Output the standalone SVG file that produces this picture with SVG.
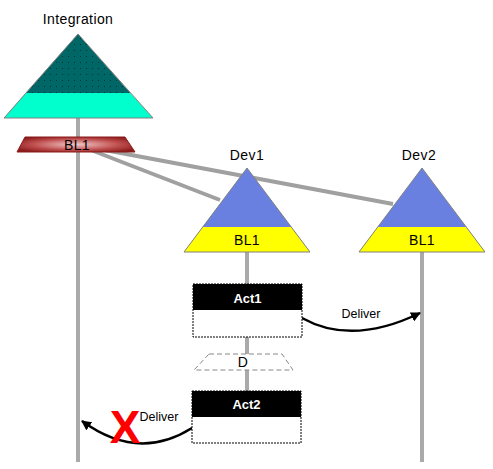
<svg xmlns="http://www.w3.org/2000/svg" width="493" height="469" viewBox="0 0 493 469">
<style>
text{font-family:"Liberation Sans",Arial,sans-serif;text-anchor:middle;fill:#000}
.lbl{font-size:14px;letter-spacing:0.4px}
.act{font-size:13px;font-weight:bold;fill:#fff}
.life{stroke:#aaaaaa;stroke-width:4;fill:none}
.link{stroke:#a0a0a0;stroke-width:4;fill:none}
.tri{stroke:#808080;stroke-width:1}
.arrow{stroke:#000;stroke-width:2.5;fill:none;marker-end:url(#ah)}
.box{fill:#fff;stroke:#000;stroke-width:1;stroke-dasharray:2 1}
</style>
<defs>
<marker id="ah" viewBox="0 0 10 10" refX="9" refY="5" markerWidth="4" markerHeight="4" orient="auto" markerUnits="strokeWidth">
<path d="M0,0 L10,5 L0,10 z" fill="#000"/>
</marker>
<pattern id="dots" width="6" height="6" patternUnits="userSpaceOnUse">
<rect width="6" height="6" fill="#006666"/>
<rect x="2" y="2" width="1" height="1" fill="#003333"/>
</pattern>
<radialGradient id="red" cx="0.5" cy="0.5" r="0.6">
<stop offset="0" stop-color="#f0c8c8"/>
<stop offset="0.6" stop-color="#c05050"/>
<stop offset="1" stop-color="#8b1a1a"/>
</radialGradient>
</defs>
<g id="connectors">
<line class="life" x1="78" y1="118" x2="78" y2="462"/>
<line class="life" x1="247" y1="252" x2="247" y2="391"/>
<line class="life" x1="422" y1="252" x2="422" y2="462"/>
<line class="link" x1="78" y1="145" x2="220" y2="200"/>
<line class="link" x1="78" y1="145" x2="393" y2="204"/>
<path class="arrow" d="M302,318 Q352,346 420,313"/>
<path class="arrow" d="M192,428 Q138,462 82,421"/>
<text x="361" y="318" style="font-size:12.5px">Deliver</text>
<text x="159" y="421" style="font-size:12.5px">Deliver</text>
<text x="125" y="443" style="font-size:46px;font-weight:bold;fill:#ff0000">X</text>
</g>
<g id="integration">
<text class="lbl" x="78" y="24">Integration</text>
<polygon points="78,34 130.3,93 25.7,93" fill="url(#dots)"/>
<polygon points="25.7,93 130.3,93 153,118 4,118" fill="#00ffcc"/>
<polygon class="tri" points="78,34 153,118 4,118" fill="none"/>
</g>
<g id="int-bl1">
<polygon points="25,137 125,137 135,152 17,152" fill="url(#red)" stroke="#8b1a1a" stroke-width="1"/>
<text class="lbl" x="77" y="150">BL1</text>
</g>
<g id="dev1">
<text class="lbl" x="247" y="160">Dev1</text>
<polygon points="247,168 291.3,227 202.7,227" fill="#6a80e0"/>
<polygon points="202.7,227 291.3,227 310,252 184,252" fill="#ffff00"/>
<polygon class="tri" points="247,168 310,252 184,252" fill="none"/>
<text class="lbl" x="247" y="245">BL1</text>
</g>
<g id="dev2">
<text class="lbl" x="419" y="160">Dev2</text>
<polygon points="422,168 466.3,227 377.7,227" fill="#6a80e0"/>
<polygon points="377.7,227 466.3,227 485,252 359,252" fill="#ffff00"/>
<polygon class="tri" points="422,168 485,252 359,252" fill="none"/>
<text class="lbl" x="422" y="245">BL1</text>
</g>
<g id="act1">
<rect class="box" x="193" y="284" width="109" height="53"/>
<rect x="193" y="284" width="109" height="26" fill="#000"/>
<text class="act" x="247.5" y="303">Act1</text>
</g>
<g id="d">
<polygon points="209,354 282,354 293,370 194,370" fill="#fff" stroke="#888" stroke-width="1" stroke-dasharray="5 3"/>
<text class="lbl" x="243" y="367">D</text>
</g>
<g id="act2">
<rect class="box" x="192" y="391" width="109" height="52"/>
<rect x="192" y="391" width="109" height="26" fill="#000"/>
<text class="act" x="246.5" y="409">Act2</text>
</g>
</svg>
